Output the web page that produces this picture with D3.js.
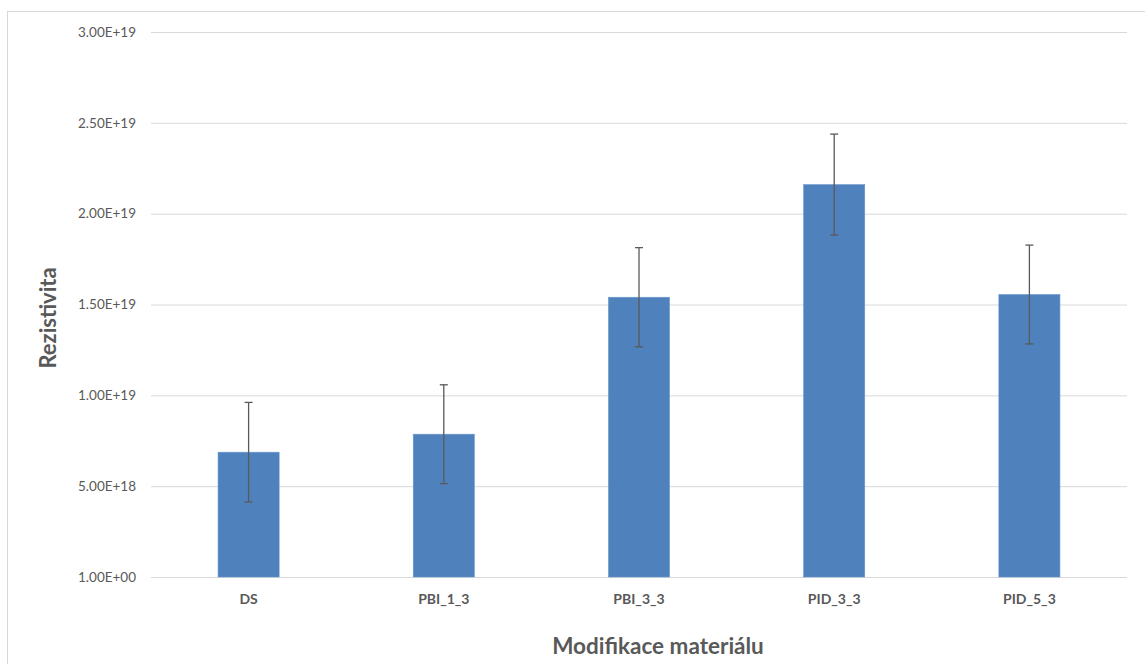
<!DOCTYPE html>
<html><head><meta charset="utf-8">
<script src="https://cdn.jsdelivr.net/npm/d3@7"></script>
<style>body{margin:0;background:#fff}svg{display:block}</style>
</head><body>
<script>
const categories = ["DS","PBI_1_3","PBI_3_3","PID_3_3","PID_5_3"];
const values = [6.87e18, 7.86e18, 15.4e18, 21.6e18, 15.55e18];
const errors = [2.74e18, 2.72e18, 2.73e18, 2.78e18, 2.72e18];
const yTicks = [0, 5e18, 1e19, 1.5e19, 2e19, 2.5e19, 3e19];
const yTickLabels = ["1.00E+00","5.00E+18","1.00E+19","1.50E+19","2.00E+19","2.50E+19","3.00E+19"];
const xTitle = "Modifikace materiálu";
const yTitle = "Rezistivita";

const W = 1145, H = 664;
const m = {left:151, right:18, top:32, bottom:87};
const svg = d3.select("body").append("svg").attr("width",W).attr("height",H);
svg.append("rect").attr("x",7.5).attr("y",11.5).attr("width",1140).attr("height",700)
  .attr("fill","#fff").attr("stroke","#d9d9d9");

const x = d3.scaleBand().domain(categories).range([m.left, W-m.right]).paddingInner(0.687).paddingOuter(0.3435);
const y = d3.scaleLinear().domain([0,3e19]).range([H-m.bottom, m.top]);

const font = "Lato, 'Open Sans', sans-serif";
// grid
const ga = svg.append("g").attr("transform",`translate(${m.left},0)`)
  .call(d3.axisLeft(y).tickValues(yTicks).tickSize(-(W-m.left-m.right)).tickPadding(15)
    .tickFormat((d,i)=>yTickLabels[i]));
ga.select(".domain").remove();
ga.selectAll(".tick line").attr("stroke","#d9d9d9").attr("stroke-width",1);
ga.selectAll(".tick text").attr("fill","#595959").attr("font-size","13.5px").attr("font-family",font);

// bars
svg.append("g").selectAll("rect").data(categories).join("rect")
  .attr("x",d=>x(d)).attr("width",x.bandwidth())
  .attr("y",(d,i)=>y(values[i])).attr("height",(d,i)=>y(0)-y(values[i]))
  .attr("fill","#4f81bd").attr("stroke","#6a96cc").attr("stroke-width",0.6);

// error bars
const eg = svg.append("g").attr("stroke","#595959").attr("stroke-width",1.3);
categories.forEach((c,i)=>{
  const cx = x(c)+x.bandwidth()/2;
  const t = y(values[i]+errors[i]), b = y(values[i]-errors[i]);
  eg.append("line").attr("x1",cx).attr("x2",cx).attr("y1",t).attr("y2",b);
  eg.append("line").attr("x1",cx-4).attr("x2",cx+4).attr("y1",t).attr("y2",t);
  eg.append("line").attr("x1",cx-4).attr("x2",cx+4).attr("y1",b).attr("y2",b);
});

// x labels
const xa = svg.append("g").attr("transform",`translate(0,${y(0)})`)
  .call(d3.axisBottom(x).tickSize(0).tickPadding(17));
xa.select(".domain").remove();
xa.selectAll(".tick text").attr("fill","#595959").attr("font-size","14px")
  .attr("font-weight","bold").attr("font-family",font);

svg.append("text").attr("x",(m.left+W-m.right)/2+19).attr("y",654).attr("text-anchor","middle")
  .attr("fill","#595959").attr("font-size","22.5px").attr("font-weight","bold").attr("font-family",font).text(xTitle);
svg.append("text").attr("transform",`translate(56,318) rotate(-90)`).attr("text-anchor","middle")
  .attr("fill","#595959").attr("font-size","22px").attr("font-weight","bold").attr("font-family",font).text(yTitle);
</script>
</body></html>
